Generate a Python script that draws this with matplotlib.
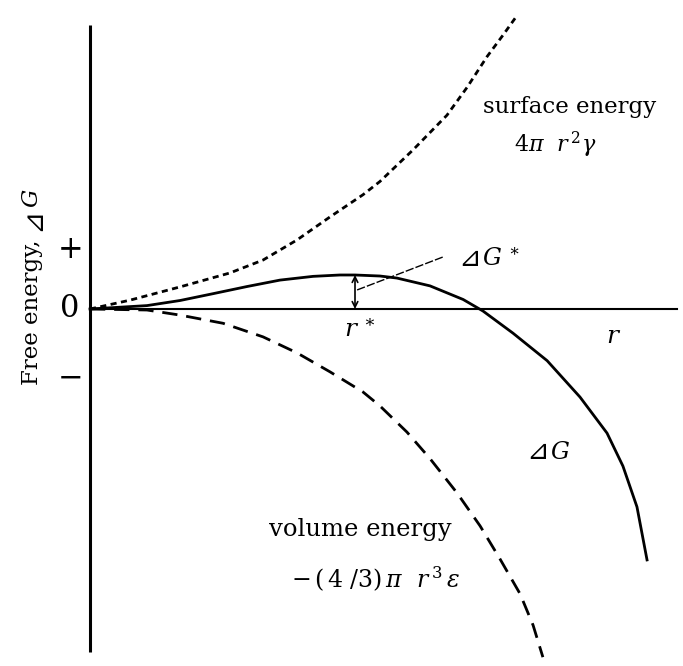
import matplotlib
matplotlib.use("Agg")
import matplotlib.pyplot as plt
from matplotlib.transforms import offset_copy

plt.rcParams['font.family'] = ['DejaVu Serif', 'DejaVu Sans', 'Noto Sans CJK JP']
plt.rcParams['mathtext.fontset'] = 'dejavuserif'

# radius (r*/r units) and energy (ΔG* units)
surface_r = [0, 0.151, 0.340, 0.528, 0.653, 0.781, 0.906, 1.030, 1.094, 1.219, 1.347, 1.423, 1.498, 1.558, 1.604]
surface_E = [0, 0.26, 0.65, 1.06, 1.44, 2.03, 2.71, 3.36, 3.75, 4.68, 5.70, 6.52, 7.42, 8.05, 8.55]

volume_r = [0, 0.215, 0.340, 0.502, 0.653, 0.781, 0.906, 1.030, 1.094, 1.196, 1.283, 1.385, 1.472, 1.547, 1.623, 1.672, 1.709]
volume_E = [0, -0.03, -0.18, -0.42, -0.82, -1.29, -1.85, -2.44, -2.85, -3.62, -4.40, -5.41, -6.38, -7.35, -8.38, -9.30, -10.24]

dG_r = [0, 0.215, 0.340, 0.464, 0.592, 0.717, 0.842, 0.943, 1.0, 1.094, 1.158, 1.283, 1.408, 1.483, 1.596, 1.725, 1.849, 1.951, 2.011, 2.064, 2.102]
dG_E = [0, 0.10, 0.25, 0.45, 0.66, 0.85, 0.96, 1.0, 1.0, 0.97, 0.91, 0.68, 0.28, -0.06, -0.71, -1.52, -2.59, -3.65, -4.62, -5.82, -7.38]

r_star = 1.0
dG_star = 1.0
r_axis_end = 2.215
E_axis_top = 8.35
E_axis_bottom = -10.09
sign_labels = ['+', '0', '−']
sign_values = [1.76, 0.0, -2.03]

fig = plt.figure(figsize=(6.83, 6.66), dpi=100)
ax = fig.add_axes([0, 0, 1, 1])
ax.set_xlim(-0.3396, 2.2377)
ax.set_ylim(-10.5, 9.088)
ax.axis('off')

# axes
ax.plot([0, 0], [E_axis_bottom, E_axis_top], color='black', lw=2.2, solid_capstyle='butt')
ax.plot([0, r_axis_end], [0, 0], color='black', lw=1.5)

# curves
ax.plot(surface_r, surface_E, color='black', lw=2.0, dashes=(2.2, 1.6))
ax.plot(volume_r, volume_E, color='black', lw=2.0, dashes=(5.5, 3.2))
ax.plot(dG_r, dG_E, color='black', lw=2.0)

# ΔG* double arrow and leader
ax.annotate('', xy=(r_star, dG_star), xytext=(r_star, 0),
            arrowprops=dict(arrowstyle='<->', lw=1.2, color='black',
                            shrinkA=0, shrinkB=0, mutation_scale=10))
ax.plot([1.008, 1.332], [0.56, 1.53], color='black', lw=1.0, dashes=(6, 1.5))


def delta_g(x, y, suffix, size):
    """Draw the triangle glyph and the italic G as separate texts."""
    tri = ['DejaVu Sans', 'Noto Sans CJK JP']
    ax.text(x, y, '⊿', fontsize=size * 1.15, family=tri, ha='right', va='center',
            transform=offset_copy(ax.transData, fig=fig, x=1, y=0, units='points'))
    ax.text(x, y, suffix, fontsize=size, ha='left', va='center',
            transform=offset_copy(ax.transData, fig=fig, x=2, y=0, units='points'))


delta_g(1.47, 1.47, '$G^{\\,\\ast}$', 17)
delta_g(1.725, -4.21, '$G$', 17)

ax.text(1.019, -0.62, '$r^{\\,\\ast}$', fontsize=18, ha='center', va='center')
ax.text(1.974, -0.82, '$r$', fontsize=18, ha='center', va='center')

ax.text(1.811, 5.94, 'surface energy', fontsize=16.5, ha='center', va='center')
ax.text(1.755, 4.82, '$4\\pi\\ \\ r^{\\,2}\\gamma$', fontsize=16, ha='center', va='center')
ax.text(1.019, -6.50, 'volume energy', fontsize=17.5, ha='center', va='center')
ax.text(1.079, -7.94, '$-\\,(\\,4\\ /3)\\,\\pi\\ \\ r^{\\,3}\\,\\epsilon$', fontsize=17, ha='center', va='center')

# rotated y label: "Free energy, " + triangle + italic G
ax.text(-0.219, 2.05, 'Free energy,', fontsize=16.5, rotation=90, ha='center', va='top')
ax.text(-0.219, 2.05, '⊿', fontsize=20, rotation=90, ha='center', va='bottom',
        family=['DejaVu Sans', 'Noto Sans CJK JP'],
        transform=offset_copy(ax.transData, fig=fig, x=0, y=6, units='points'))
ax.text(-0.219, 2.05, '$G$', fontsize=16.5, rotation=90, ha='center', va='bottom',
        transform=offset_copy(ax.transData, fig=fig, x=0, y=22.5, units='points'))

for lab, val in zip(sign_labels, sign_values):
    ax.text(-0.075, val, lab, fontsize=22, ha='center', va='center')

fig.savefig('out.png', dpi=100)
